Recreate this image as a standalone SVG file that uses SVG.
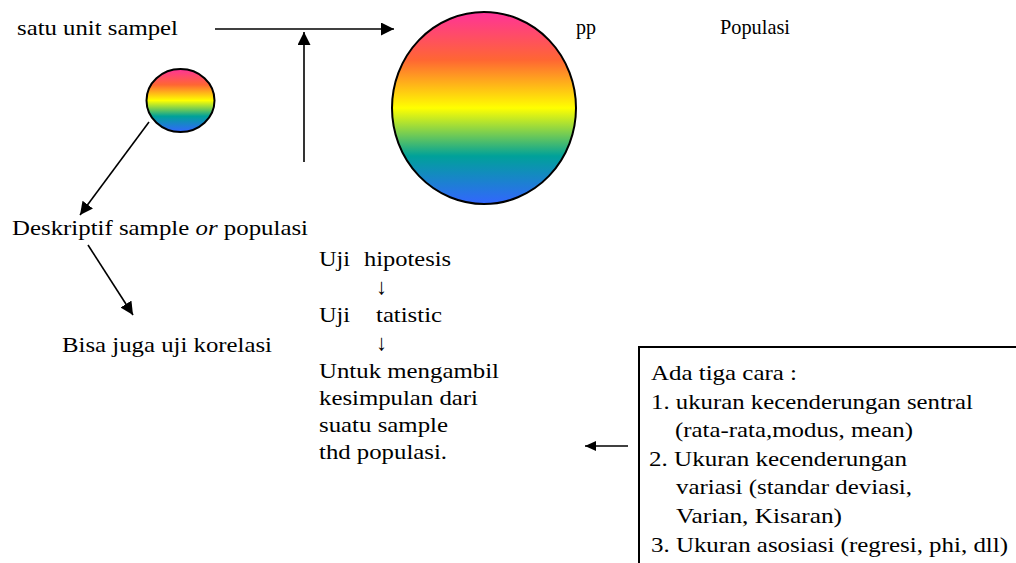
<svg xmlns="http://www.w3.org/2000/svg" width="1016" height="563" viewBox="0 0 1016 563">
<style>
text{font-family:'Liberation Serif','Times New Roman','DejaVu Serif',serif;font-size:22px;fill:#000}
.c{stroke:#000;stroke-width:2}
.ln{stroke:#000;stroke-width:1.6;fill:none}
</style>
<defs>
<linearGradient id="rb" x1="0" y1="0" x2="0" y2="1">
<stop offset="0" stop-color="#FF3399"/>
<stop offset="0.25" stop-color="#FF6633"/>
<stop offset="0.5" stop-color="#FFFF00"/>
<stop offset="0.75" stop-color="#00A199"/>
<stop offset="1" stop-color="#3366FF"/>
</linearGradient>
<marker id="ah" markerUnits="userSpaceOnUse" markerWidth="14" markerHeight="14" refX="13" refY="6.5" orient="auto">
<path d="M0,0 L13,6.5 L0,13 z" fill="#000"/>
</marker>
<marker id="ahs" markerUnits="userSpaceOnUse" markerWidth="12" markerHeight="12" refX="11" refY="5" orient="auto">
<path d="M0,0 L11,5 L0,10 z" fill="#000"/>
</marker>
</defs>
<g id="populasi">
<ellipse class="c" cx="484" cy="108" rx="92" ry="96" fill="url(#rb)"/>
<text x="576" y="34" textLength="20" lengthAdjust="spacingAndGlyphs">pp</text>
<text x="720" y="34" textLength="70" lengthAdjust="spacingAndGlyphs">Populasi</text>
</g>
<g id="sampel">
<ellipse class="c" cx="180.5" cy="100.5" rx="34" ry="31.5" fill="url(#rb)"/>
<text x="17" y="35" textLength="161" lengthAdjust="spacingAndGlyphs">satu unit sampel</text>
</g>
<g id="deskriptif">
<text x="12" y="235" textLength="296" lengthAdjust="spacingAndGlyphs">Deskriptif sample <tspan font-style="italic">or</tspan> populasi</text>
</g>
<g id="korelasi">
<text x="62" y="352" textLength="210" lengthAdjust="spacingAndGlyphs">Bisa juga uji korelasi</text>
</g>
<g id="uji">
<text x="319" y="266" textLength="31" lengthAdjust="spacingAndGlyphs">Uji</text>
<text x="364" y="266" textLength="87" lengthAdjust="spacingAndGlyphs">hipotesis</text>
<text x="376" y="294">↓</text>
<text x="319" y="322" textLength="31" lengthAdjust="spacingAndGlyphs">Uji</text>
<text x="376" y="322" textLength="66" lengthAdjust="spacingAndGlyphs">tatistic</text>
<text x="376" y="350">↓</text>
<text x="319" y="378" textLength="180" lengthAdjust="spacingAndGlyphs">Untuk mengambil</text>
<text x="319" y="405" textLength="159" lengthAdjust="spacingAndGlyphs">kesimpulan dari</text>
<text x="319" y="432" textLength="129" lengthAdjust="spacingAndGlyphs">suatu sample</text>
<text x="319" y="459" textLength="128" lengthAdjust="spacingAndGlyphs">thd populasi.</text>
</g>
<g id="cara">
<path class="c" d="M639,563 V347 H1016" fill="none"/>
<text x="651" y="380" textLength="146" lengthAdjust="spacingAndGlyphs">Ada tiga cara :</text>
<text x="651" y="409" textLength="322" lengthAdjust="spacingAndGlyphs">1. ukuran kecenderungan sentral</text>
<text x="675" y="437" textLength="238" lengthAdjust="spacingAndGlyphs">(rata-rata,modus, mean)</text>
<text x="649" y="466" textLength="258" lengthAdjust="spacingAndGlyphs">2. Ukuran kecenderungan</text>
<text x="676" y="494" textLength="236" lengthAdjust="spacingAndGlyphs">variasi (standar deviasi,</text>
<text x="676" y="523" textLength="166" lengthAdjust="spacingAndGlyphs">Varian, Kisaran)</text>
<text x="651" y="552" textLength="357" lengthAdjust="spacingAndGlyphs">3. Ukuran asosiasi (regresi, phi, dll)</text>
</g>
<g id="connectors">
<line class="ln" x1="215" y1="29" x2="394" y2="29" marker-end="url(#ah)"/>
<line class="ln" x1="304" y1="162" x2="304" y2="32" marker-end="url(#ah)"/>
<line class="ln" x1="149" y1="122" x2="80" y2="215" marker-end="url(#ah)"/>
<line class="ln" x1="88" y1="245" x2="133" y2="315" marker-end="url(#ah)"/>
<line class="ln" x1="628" y1="446" x2="585" y2="446" marker-end="url(#ahs)"/>
</g>
</svg>
